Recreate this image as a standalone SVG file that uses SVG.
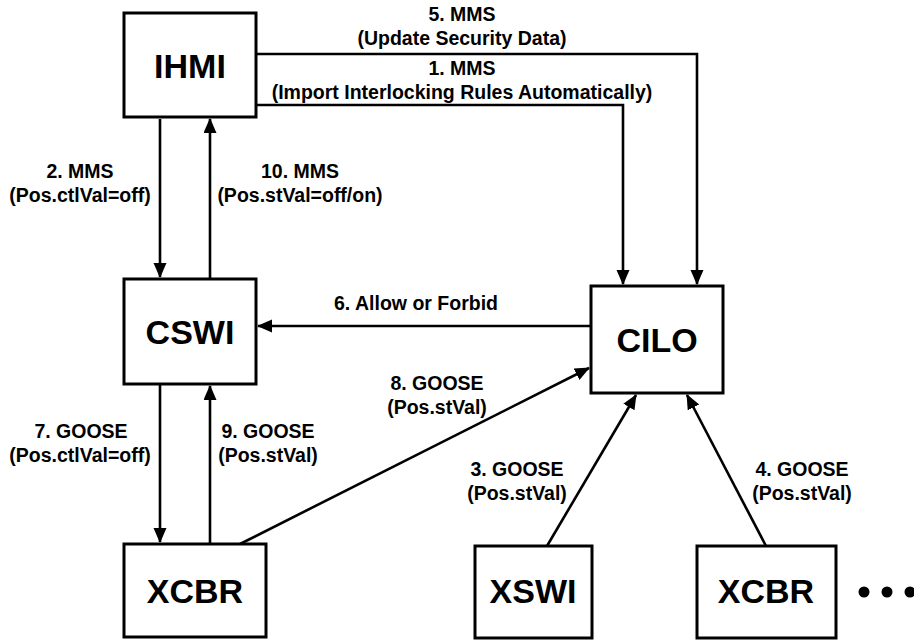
<svg xmlns="http://www.w3.org/2000/svg" width="914" height="640" viewBox="0 0 914 640">
<defs>
<style>
.box{fill:#fff;stroke:#000;stroke-width:3}
.node{font-family:"Liberation Sans",Arial,sans-serif;font-weight:bold;font-size:34px;text-anchor:middle;fill:#000}
.lbl{font-family:"Liberation Sans",Arial,sans-serif;font-weight:bold;font-size:19.5px;text-anchor:middle;fill:#000}
.ln{fill:none;stroke:#000;stroke-width:2.6;marker-end:url(#ah)}
</style>
<marker id="ah" markerUnits="userSpaceOnUse" markerWidth="16" markerHeight="14" refX="14" refY="6.5" orient="auto">
<path d="M0,0 L15,6.5 L0,13 z" fill="#000"/>
</marker>
</defs>
<g id="connectors">
<path class="ln" d="M257,54 H697 V284"/>
<path class="ln" d="M257,105 H623 V284"/>
<path class="ln" d="M160,119 V277"/>
<path class="ln" d="M210,279 V119"/>
<path class="ln" d="M591,326 H258"/>
<path class="ln" d="M160,385 V542"/>
<path class="ln" d="M210,544 V386"/>
<path class="ln" d="M240,544 L589,368"/>
<path class="ln" d="M547,546 L636,395"/>
<path class="ln" d="M766,546 L687,395"/>
</g>
<g id="labels">
<text class="lbl" x="462" y="21">5. MMS</text>
<text class="lbl" x="462" y="45">(Update Security Data)</text>
<text class="lbl" x="462" y="75">1. MMS</text>
<text class="lbl" x="462" y="99">(Import Interlocking Rules Automatically)</text>
<text class="lbl" x="80" y="178">2. MMS</text>
<text class="lbl" x="80" y="202">(Pos.ctlVal=off)</text>
<text class="lbl" x="300" y="178">10. MMS</text>
<text class="lbl" x="300" y="202">(Pos.stVal=off/on)</text>
<text class="lbl" x="416" y="310">6. Allow or Forbid</text>
<text class="lbl" x="437" y="390">8. GOOSE</text>
<text class="lbl" x="437" y="414">(Pos.stVal)</text>
<text class="lbl" x="81" y="438">7. GOOSE</text>
<text class="lbl" x="80" y="462">(Pos.ctlVal=off)</text>
<text class="lbl" x="268" y="438">9. GOOSE</text>
<text class="lbl" x="268" y="462">(Pos.stVal)</text>
<text class="lbl" x="517" y="476">3. GOOSE</text>
<text class="lbl" x="517" y="500">(Pos.stVal)</text>
<text class="lbl" x="802" y="476">4. GOOSE</text>
<text class="lbl" x="802" y="500">(Pos.stVal)</text>
</g>
<g id="IHMI"><rect class="box" x="124" y="13" width="132" height="104"/><text class="node" x="190" y="78">IHMI</text></g>
<g id="CSWI"><rect class="box" x="124" y="279" width="132" height="105"/><text class="node" x="190" y="344">CSWI</text></g>
<g id="CILO"><rect class="box" x="591" y="286" width="132" height="107"/><text class="node" x="657" y="352">CILO</text></g>
<g id="XCBR1"><rect class="box" x="124" y="544" width="142" height="93"/><text class="node" x="195" y="603">XCBR</text></g>
<g id="XSWI"><rect class="box" x="475" y="546" width="117" height="92"/><text class="node" x="533" y="603">XSWI</text></g>
<g id="XCBR2"><rect class="box" x="697" y="546" width="139" height="92"/><text class="node" x="766" y="603">XCBR</text></g>
<g id="ellipsis"><circle cx="864" cy="592" r="5.5"/><circle cx="887" cy="592" r="5.5"/><circle cx="910" cy="592" r="5.5"/></g>
</svg>
